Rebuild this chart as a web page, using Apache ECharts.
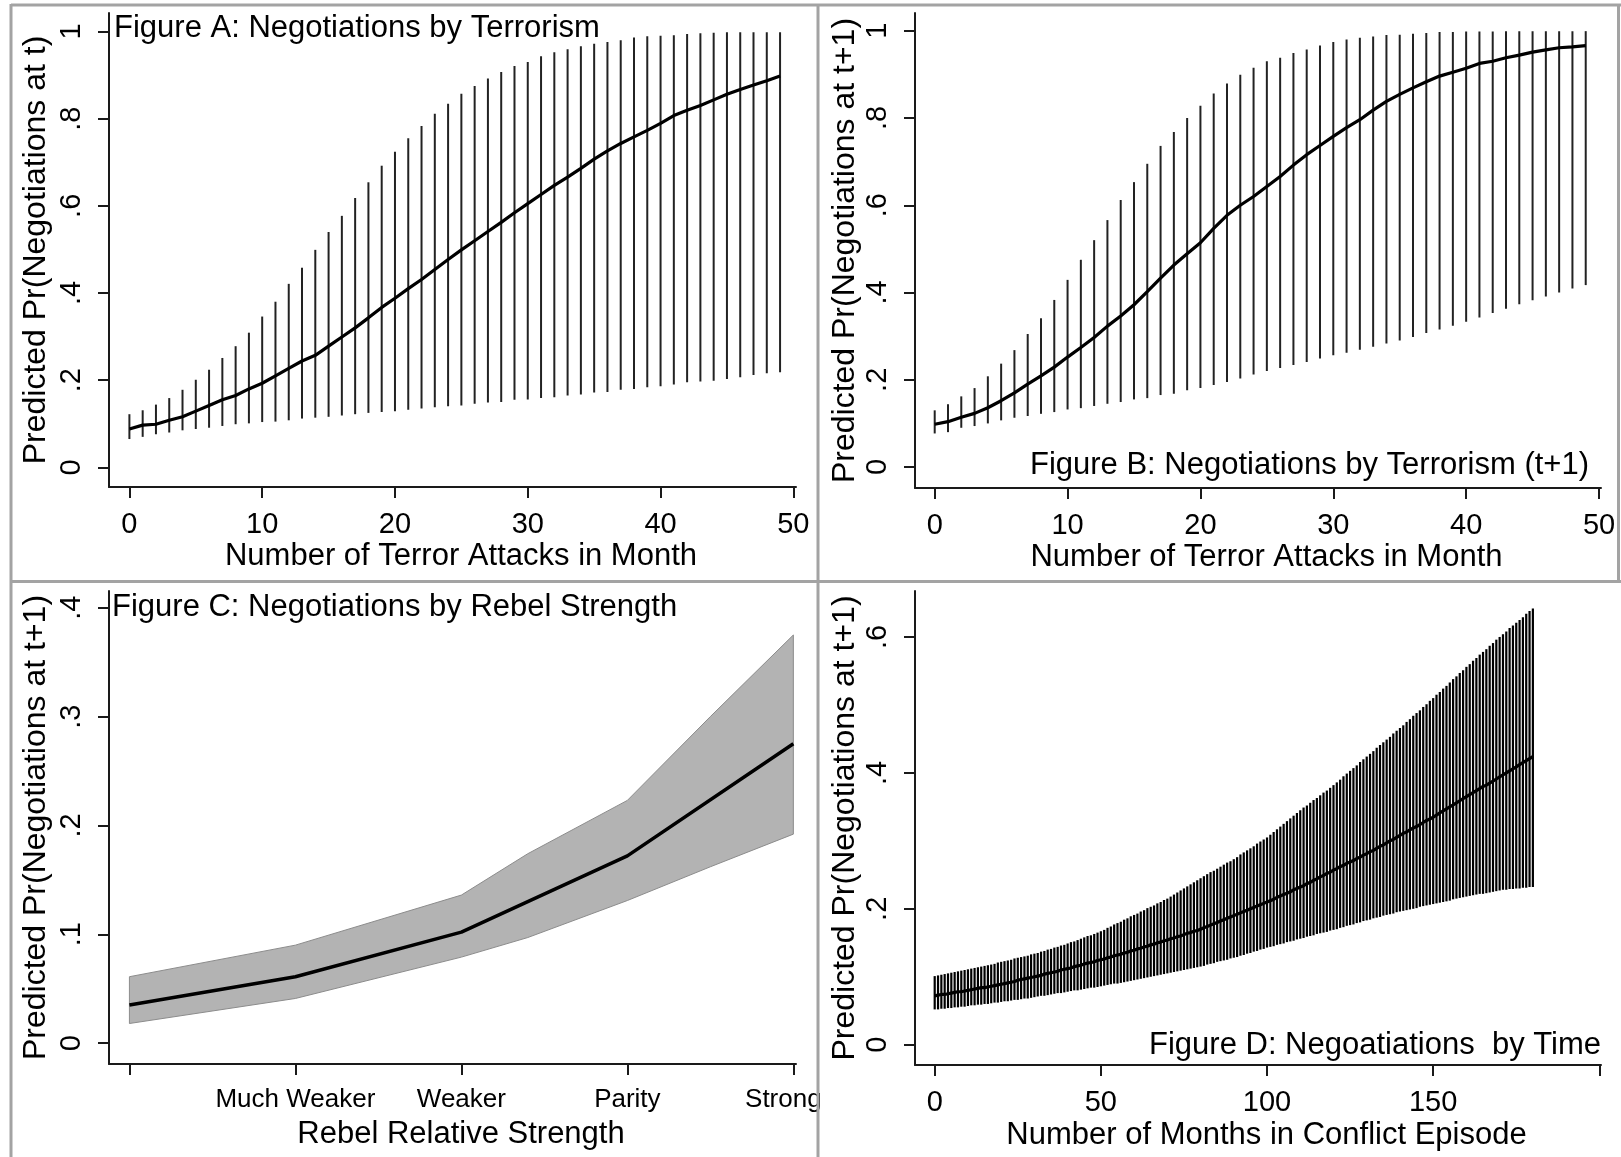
<!DOCTYPE html>
<html>
<head>
<meta charset="utf-8">
<script src="https://cdn.jsdelivr.net/npm/echarts@6/dist/echarts.min.js"></script>
<style>
html,body{margin:0;padding:0;background:#fff;}
#chart{width:1621px;height:1157px;}
</style>
</head>
<body>
<div id="chart"></div>
<script>
// ---------- Panel A: Negotiations by Terrorism ----------
const aMean = [0.088,0.097,0.099,0.108,0.116,0.129,0.142,0.155,0.165,0.180,0.193,0.210,0.227,0.244,0.257,0.278,0.299,0.320,0.343,0.367,0.388,0.410,0.431,0.454,0.477,0.499,0.520,0.541,0.562,0.584,0.605,0.626,0.647,0.666,0.686,0.707,0.726,0.743,0.758,0.773,0.789,0.807,0.819,0.830,0.843,0.856,0.867,0.877,0.887,0.898];
const aLo = [0.065,0.070,0.076,0.080,0.085,0.088,0.091,0.095,0.099,0.101,0.104,0.105,0.108,0.112,0.114,0.116,0.119,0.122,0.125,0.127,0.129,0.132,0.135,0.138,0.140,0.142,0.146,0.149,0.150,0.155,0.156,0.159,0.161,0.165,0.167,0.172,0.173,0.178,0.180,0.184,0.186,0.190,0.195,0.197,0.199,0.203,0.207,0.212,0.216,0.218];
const aHi = [0.122,0.131,0.144,0.159,0.178,0.201,0.224,0.251,0.278,0.309,0.346,0.380,0.421,0.458,0.499,0.540,0.577,0.618,0.654,0.692,0.724,0.755,0.783,0.811,0.834,0.857,0.875,0.892,0.907,0.921,0.930,0.943,0.952,0.959,0.966,0.972,0.976,0.980,0.986,0.989,0.990,0.991,0.994,0.996,0.997,0.998,0.998,0.998,0.998,0.998];

// ---------- Panel B: Negotiations by Terrorism (t+1) ----------
const bMean = [0.098,0.104,0.114,0.123,0.136,0.152,0.170,0.190,0.209,0.229,0.252,0.274,0.297,0.323,0.346,0.372,0.402,0.433,0.463,0.489,0.514,0.547,0.577,0.600,0.620,0.643,0.666,0.692,0.716,0.737,0.758,0.778,0.796,0.818,0.838,0.854,0.869,0.883,0.896,0.905,0.914,0.925,0.930,0.938,0.944,0.951,0.956,0.961,0.963,0.966];
const bLo = [0.077,0.080,0.090,0.094,0.100,0.107,0.113,0.117,0.122,0.126,0.132,0.135,0.140,0.145,0.149,0.155,0.158,0.165,0.168,0.176,0.181,0.188,0.195,0.203,0.212,0.220,0.227,0.234,0.241,0.249,0.256,0.262,0.269,0.276,0.283,0.290,0.298,0.307,0.315,0.324,0.333,0.343,0.353,0.363,0.373,0.382,0.391,0.400,0.409,0.417];
const bHi = [0.130,0.144,0.162,0.181,0.208,0.237,0.268,0.305,0.341,0.383,0.429,0.475,0.520,0.566,0.612,0.653,0.695,0.736,0.768,0.800,0.828,0.856,0.879,0.899,0.915,0.930,0.938,0.949,0.957,0.966,0.974,0.980,0.984,0.987,0.990,0.991,0.993,0.995,0.997,0.997,0.998,0.998,0.998,0.999,0.999,0.999,0.999,0.999,0.999,0.999];

// ---------- Panel C: Negotiations by Rebel Strength ----------
const cX = [1, 2, 3, 4, 5];
const cMean = [0.035, 0.061, 0.102, 0.172, 0.275];
const cBandX = [1, 2, 3, 3.4, 4, 4.5, 5];
const cBandHi = [0.061, 0.090, 0.136, 0.174, 0.223, 0.300, 0.375];
const cBandLo = [0.018, 0.041, 0.079, 0.097, 0.131, 0.162, 0.192];
const cCatTicks = [1, 2, 3, 4, 5];
const cCatLabelVals = [2, 3, 4, 5];
const cCatLabels = ['Much Weaker', 'Weaker', 'Parity', 'Strong'];

// ---------- Panel D: Negotiations by Time ----------
const dMean = [
0.072,0.073,0.074,0.074,0.075,0.076,0.077,0.078,0.078,0.079,
0.080,0.081,0.082,0.083,0.084,0.084,0.085,0.086,0.087,0.088,
0.089,0.090,0.091,0.092,0.093,0.095,0.096,0.097,0.098,0.099,
0.100,0.101,0.102,0.104,0.105,0.106,0.107,0.108,0.110,0.111,
0.112,0.113,0.115,0.116,0.117,0.119,0.120,0.121,0.122,0.124,
0.125,0.126,0.128,0.129,0.131,0.132,0.133,0.135,0.136,0.138,
0.139,0.141,0.142,0.144,0.145,0.147,0.148,0.150,0.151,0.153,
0.154,0.156,0.157,0.159,0.160,0.162,0.164,0.165,0.167,0.168,
0.170,0.172,0.174,0.176,0.178,0.180,0.182,0.184,0.186,0.188,
0.190,0.192,0.194,0.196,0.198,0.200,0.202,0.204,0.206,0.208,
0.210,0.212,0.214,0.217,0.219,0.221,0.223,0.225,0.228,0.230,
0.232,0.234,0.237,0.239,0.242,0.244,0.247,0.249,0.252,0.254,
0.257,0.259,0.262,0.264,0.267,0.269,0.271,0.274,0.276,0.279,
0.281,0.284,0.286,0.289,0.292,0.294,0.297,0.300,0.302,0.305,
0.308,0.311,0.313,0.316,0.319,0.321,0.324,0.327,0.330,0.332,
0.335,0.338,0.341,0.344,0.347,0.350,0.353,0.356,0.359,0.362,
0.365,0.368,0.371,0.374,0.377,0.380,0.382,0.385,0.388,0.391,
0.394,0.397,0.400,0.403,0.406,0.409,0.412,0.415,0.418,0.421,0.424];
const dLo = [
0.052,0.052,0.053,0.053,0.054,0.054,0.055,0.055,0.056,0.056,
0.057,0.058,0.058,0.059,0.059,0.060,0.060,0.061,0.062,0.062,
0.063,0.064,0.064,0.065,0.066,0.066,0.067,0.068,0.068,0.069,
0.070,0.071,0.072,0.072,0.073,0.074,0.075,0.076,0.076,0.077,
0.078,0.079,0.080,0.080,0.081,0.082,0.083,0.084,0.084,0.085,
0.086,0.087,0.088,0.089,0.090,0.090,0.091,0.092,0.093,0.094,
0.095,0.096,0.097,0.098,0.099,0.100,0.101,0.102,0.103,0.104,
0.105,0.106,0.107,0.108,0.109,0.110,0.111,0.112,0.113,0.114,
0.115,0.116,0.118,0.119,0.120,0.122,0.123,0.124,0.125,0.127,
0.128,0.129,0.131,0.132,0.134,0.135,0.137,0.138,0.140,0.141,
0.143,0.144,0.145,0.147,0.148,0.149,0.151,0.152,0.153,0.155,
0.156,0.157,0.159,0.160,0.161,0.163,0.164,0.165,0.166,0.168,
0.169,0.170,0.172,0.173,0.175,0.176,0.177,0.179,0.180,0.182,
0.183,0.184,0.186,0.187,0.188,0.190,0.191,0.192,0.193,0.195,
0.196,0.197,0.198,0.199,0.200,0.201,0.203,0.204,0.205,0.206,
0.207,0.208,0.209,0.210,0.211,0.212,0.214,0.215,0.216,0.217,
0.218,0.219,0.220,0.221,0.222,0.222,0.223,0.224,0.225,0.226,
0.227,0.228,0.228,0.229,0.229,0.230,0.230,0.231,0.231,0.232,0.232];
const dHi = [
0.101,0.102,0.103,0.104,0.105,0.106,0.107,0.108,0.109,0.110,
0.111,0.112,0.113,0.114,0.115,0.116,0.117,0.118,0.119,0.121,
0.122,0.123,0.124,0.125,0.127,0.128,0.129,0.130,0.131,0.133,
0.134,0.135,0.137,0.138,0.140,0.141,0.143,0.144,0.146,0.147,
0.149,0.151,0.152,0.154,0.156,0.158,0.160,0.161,0.163,0.165,
0.167,0.169,0.172,0.174,0.177,0.179,0.181,0.184,0.186,0.189,
0.191,0.193,0.196,0.198,0.201,0.203,0.205,0.208,0.210,0.213,
0.215,0.218,0.221,0.224,0.227,0.230,0.233,0.236,0.239,0.242,
0.245,0.248,0.251,0.254,0.256,0.259,0.262,0.265,0.268,0.270,
0.273,0.276,0.280,0.283,0.286,0.289,0.292,0.296,0.299,0.302,
0.305,0.309,0.313,0.317,0.321,0.325,0.329,0.333,0.337,0.341,
0.345,0.349,0.352,0.356,0.360,0.363,0.367,0.371,0.374,0.378,
0.382,0.386,0.390,0.395,0.399,0.403,0.407,0.411,0.416,0.420,
0.424,0.428,0.432,0.437,0.441,0.445,0.449,0.453,0.458,0.462,
0.466,0.470,0.475,0.479,0.484,0.488,0.492,0.497,0.501,0.506,
0.510,0.515,0.519,0.524,0.528,0.533,0.538,0.542,0.547,0.551,
0.556,0.560,0.565,0.569,0.574,0.578,0.582,0.587,0.591,0.596,
0.600,0.604,0.608,0.613,0.617,0.621,0.625,0.629,0.634,0.638,0.642];

// tick values
const abXTicks = [0, 10, 20, 30, 40, 50];
const abYTicks = [0, 0.2, 0.4, 0.6, 0.8, 1];
const cYTicks = [0, 0.1, 0.2, 0.3, 0.4];
const dXTicks = [0, 50, 100, 150, 200];
const dXLabels = [0, 50, 100, 150];
const dYTicks = [0, 0.2, 0.4, 0.6];

// titles / names
const titleA = 'Figure A: Negotiations by Terrorism';
const titleB = 'Figure B: Negotiations by Terrorism (t+1)';
const titleC = 'Figure C: Negotiations by Rebel Strength';
const titleD = 'Figure D: Negoatiations  by Time';
const xNameAB = 'Number of Terror Attacks in Month';
const xNameC = 'Rebel Relative Strength';
const xNameD = 'Number of Months in Conflict Episode';
const yNameA = 'Predicted Pr(Negotiations at t)';
const yNameBCD = 'Predicted Pr(Negotiations at t+1)';

const aX = aMean.map((_, i) => i);
const bX = bMean.map((_, i) => i);
const dX = dMean.map((_, i) => i);

const FONT = "'Liberation Sans', Arial, sans-serif";
const AX_COLOR = '#1a1a1a';

function yFmt(v) {
  if (Math.abs(v) < 1e-9) return '0';
  if (Math.abs(v - 1) < 1e-9) return '1';
  return String(+v.toFixed(2)).replace(/^0\./, '.');
}

function makeX(gi, min, max, ticks, labels, fmt, name, nameGap, labelSize, rich) {
  return {
    type: 'value', gridIndex: gi, min: min, max: max,
    axisLine: {show: true, onZero: false, lineStyle: {color: AX_COLOR, width: 2}},
    axisTick: {show: true, length: 11, customValues: ticks, lineStyle: {color: AX_COLOR, width: 2}},
    axisLabel: {show: true, customValues: labels, formatter: fmt, fontSize: labelSize, fontFamily: FONT, color: '#000', margin: 23, rich: rich || {}},
    splitLine: {show: false},
    name: name, nameLocation: 'middle', nameGap: nameGap,
    nameTextStyle: {fontSize: 31, fontFamily: FONT, color: '#000', padding: [0, 0, 0, 17]}
  };
}
function makeY(gi, min, max, ticks, name, nameGap) {
  return {
    type: 'value', gridIndex: gi, min: min, max: max,
    axisLine: {show: true, onZero: false, lineStyle: {color: AX_COLOR, width: 2}},
    axisTick: {show: true, length: 11, customValues: ticks, lineStyle: {color: AX_COLOR, width: 2}},
    axisLabel: {show: true, customValues: ticks, formatter: yFmt, rotate: 90, fontSize: 29, fontFamily: FONT, color: '#000', margin: 23},
    splitLine: {show: false},
    name: name, nameLocation: 'middle', nameGap: nameGap,
    nameTextStyle: {fontSize: 32, fontFamily: FONT, color: '#000'}
  };
}

function errBars(xi, xs, lo, hi, color, width) {
  return {
    type: 'custom', xAxisIndex: xi, yAxisIndex: xi, silent: true, z: 2,
    data: xs.map((x, i) => [x, lo[i], hi[i]]),
    encode: {x: 0, y: [1, 2]},
    renderItem: function (params, api) {
      const p1 = api.coord([api.value(0), api.value(1)]);
      const p2 = api.coord([api.value(0), api.value(2)]);
      return {type: 'line', shape: {x1: p1[0], y1: p1[1], x2: p2[0], y2: p2[1]},
        style: {stroke: color, lineWidth: width}};
    }
  };
}
function meanLine(xi, xs, ys, width) {
  return {
    type: 'line', xAxisIndex: xi, yAxisIndex: xi, silent: true, z: 3,
    data: xs.map((x, i) => [x, ys[i]]),
    showSymbol: false, symbol: 'none',
    lineStyle: {color: '#000', width: width}
  };
}

const catFmt = function (v) {
  const i = cCatLabelVals.indexOf(Math.round(v));
  if (i < 0) return '';
  return i === cCatLabels.length - 1 ? '{s|' + cCatLabels[i] + '}' : cCatLabels[i];
};

const chart = echarts.init(document.getElementById('chart'), null, {renderer: 'canvas'});
const BORDER = '#a3a3a3';
const option = {
  backgroundColor: '#fff',
  animation: false,
  grid: [
    {left: 109, top: 13, width: 687, height: 474},
    {left: 915, top: 13, width: 686, height: 475},
    {left: 109, top: 591, width: 687, height: 473},
    {left: 915, top: 591, width: 686, height: 474}
  ],
  xAxis: [
    makeX(0, -1.536, 50.2, abXTicks, abXTicks, v => String(v), xNameAB, 54, 29),
    makeX(1, -1.483, 50.15, abXTicks, abXTicks, v => String(v), xNameAB, 54, 29),
    makeX(2, 0.877, 5.016, cCatTicks, cCatLabelVals, catFmt, xNameC, 55, 26,
      {s: {fontSize: 26, fontFamily: FONT, color: '#000', padding: [0, 20, 0, 0]}}),
    makeX(3, -5.93, 200.5, dXTicks, dXLabels, v => String(v), xNameD, 55, 29)
  ],
  yAxis: [
    makeY(0, -0.045, 1.0423, abYTicks, yNameA, 57),
    makeY(1, -0.048, 1.0406, abYTicks, yNameBCD, 54),
    makeY(2, -0.0192, 0.4154, cYTicks, yNameBCD, 57),
    makeY(3, -0.0298, 0.6676, dYTicks, yNameBCD, 54)
  ],
  series: [
    errBars(0, aX, aLo, aHi, '#222', 2),
    meanLine(0, aX, aMean, 3.2),
    errBars(1, bX, bLo, bHi, '#222', 2),
    meanLine(1, bX, bMean, 3.2),
    {
      type: 'custom', xAxisIndex: 2, yAxisIndex: 2, silent: true, z: 1,
      data: [[cBandX[0], cBandLo[0]]],
      encode: {x: 0, y: 1},
      renderItem: function (params, api) {
        const pts = [];
        for (let i = 0; i < cBandX.length; i++) pts.push(api.coord([cBandX[i], cBandHi[i]]));
        for (let i = cBandX.length - 1; i >= 0; i--) pts.push(api.coord([cBandX[i], cBandLo[i]]));
        return {type: 'polygon', shape: {points: pts},
          style: {fill: '#b3b3b3', stroke: '#8c8c8c', lineWidth: 1}};
      }
    },
    meanLine(2, cX, cMean, 3.5),
    errBars(3, dX, dLo, dHi, '#000', 2.2),
    meanLine(3, dX, dMean, 3.2)
  ],
  graphic: [
    {type: 'text', x: 114, y: 28, z: 10, style: {text: titleA, fontSize: 31, fontFamily: FONT, fill: '#000', align: 'left', verticalAlign: 'middle'}},
    {type: 'text', x: 1589, y: 465, z: 10, style: {text: titleB, fontSize: 31, fontFamily: FONT, fill: '#000', align: 'right', verticalAlign: 'middle'}},
    {type: 'text', x: 112, y: 607, z: 10, style: {text: titleC, fontSize: 31, fontFamily: FONT, fill: '#000', align: 'left', verticalAlign: 'middle'}},
    {type: 'text', x: 1601, y: 1045, z: 10, style: {text: titleD, fontSize: 31, fontFamily: FONT, fill: '#000', align: 'right', verticalAlign: 'middle'}},
    {type: 'line', z: 20, shape: {x1: 11, y1: 5, x2: 1621, y2: 5}, style: {stroke: BORDER, lineWidth: 3}},
    {type: 'line', z: 20, shape: {x1: 11, y1: 4, x2: 11, y2: 1157}, style: {stroke: BORDER, lineWidth: 3}},
    {type: 'line', z: 20, shape: {x1: 818, y1: 4, x2: 818, y2: 1157}, style: {stroke: BORDER, lineWidth: 3}},
    {type: 'line', z: 20, shape: {x1: 11, y1: 581.5, x2: 1621, y2: 581.5}, style: {stroke: BORDER, lineWidth: 3}},
    {type: 'line', z: 20, shape: {x1: 1618.5, y1: 4, x2: 1618.5, y2: 581.5}, style: {stroke: BORDER, lineWidth: 3}}
  ]
};
chart.setOption(option);
</script>
</body>
</html>
